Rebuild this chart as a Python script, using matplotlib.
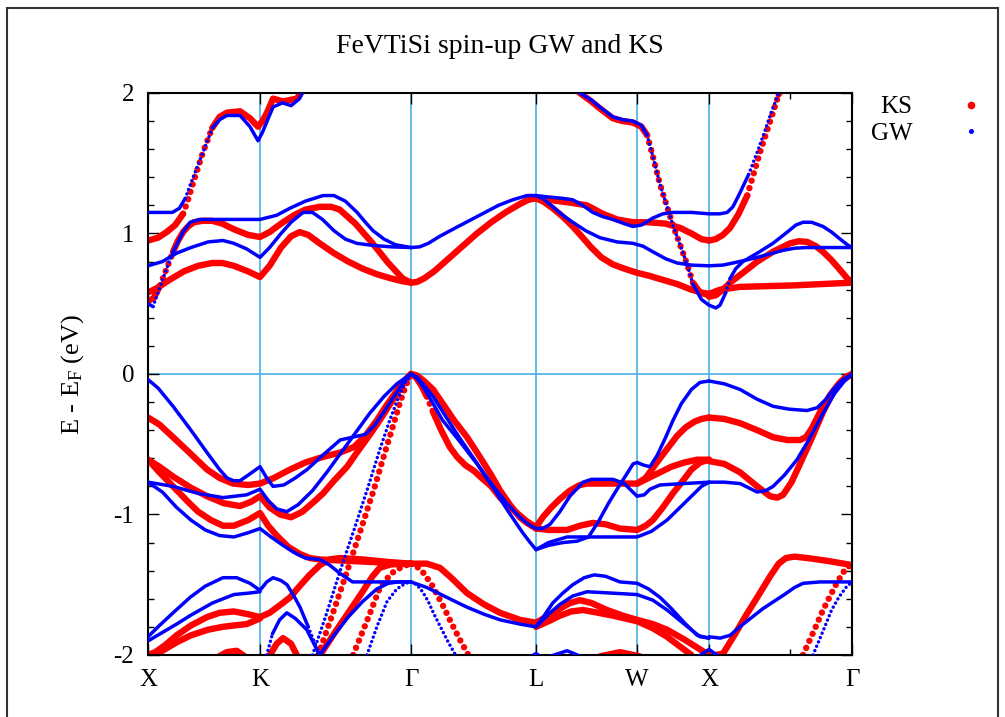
import numpy as np
import matplotlib
matplotlib.use("Agg")
import matplotlib.pyplot as plt
from matplotlib.lines import Line2D
from matplotlib.patches import Rectangle
from matplotlib.ticker import MultipleLocator

plt.rcParams["font.family"] = ["Liberation Serif", "DejaVu Serif"]
plt.rcParams["mathtext.fontset"] = "custom"
plt.rcParams["mathtext.rm"] = "Liberation Serif"
plt.rcParams["mathtext.it"] = "Liberation Serif:italic"
plt.rcParams["axes.unicode_minus"] = False

# ---- k-path --------------------------------------------------------------
kpath_pos = [0.0, 0.783, 1.839, 2.713, 3.420, 3.923, 4.923]
kpath_labels = ["X", "K", "Γ", "L", "W", "X", "Γ"]

# ---- KS bands (k, E - E_F in eV) -----------------------------------------
# conduction
ks_c1 = [(0, 0.58), (0.06, 0.61), (0.15, 0.67), (0.25, 0.73), (0.35, 0.77), (0.45, 0.79),
         (0.52, 0.79), (0.60, 0.77), (0.70, 0.73), (0.783, 0.69), (0.85, 0.77), (0.93, 0.90),
         (1.0, 0.98), (1.06, 1.01), (1.12, 0.99), (1.20, 0.93), (1.30, 0.86), (1.40, 0.80),
         (1.50, 0.75), (1.60, 0.71), (1.70, 0.68), (1.78, 0.66), (1.839, 0.65)]
ks_c2 = [(0, 0.52), (0.04, 0.54), (0.084, 0.63), (0.13, 0.75), (0.175, 0.87), (0.21, 0.95),
         (0.245, 1.01), (0.28, 1.05), (0.32, 1.08), (0.38, 1.09), (0.45, 1.09), (0.52, 1.07),
         (0.60, 1.03), (0.70, 0.99), (0.783, 0.975), (0.85, 1.01), (0.93, 1.07), (1.02, 1.13),
         (1.10, 1.17), (1.20, 1.19), (1.28, 1.19), (1.34, 1.17), (1.45, 1.07), (1.57, 0.93),
         (1.68, 0.79), (1.78, 0.68), (1.839, 0.65)]
ks_c3 = [(0, 0.95), (0.07, 0.97), (0.13, 1.01), (0.19, 1.06), (0.245, 1.14), (0.28, 1.24),
         (0.315, 1.36), (0.385, 1.58), (0.448, 1.75), (0.50, 1.83), (0.552, 1.86), (0.643, 1.87),
         (0.713, 1.82), (0.769, 1.76), (0.80, 1.80), (0.832, 1.86), (0.874, 1.96), (0.944, 1.94),
         (1.04, 1.96), (1.084, 2.02)]
ks_c5 = [(1.839, 0.65), (1.88, 0.655), (1.93, 0.68), (2.00, 0.73), (2.10, 0.82), (2.20, 0.91),
         (2.30, 1.00), (2.40, 1.08), (2.50, 1.15), (2.60, 1.21), (2.66, 1.24), (2.713, 1.25)]
ks_c6 = [(2.713, 1.25), (2.76, 1.23), (2.83, 1.18), (2.90, 1.12), (2.97, 1.05), (3.04, 0.97),
         (3.10, 0.90), (3.17, 0.83), (3.25, 0.78), (3.33, 0.75), (3.42, 0.72), (3.50, 0.70),
         (3.60, 0.67), (3.70, 0.64), (3.80, 0.60), (3.87, 0.58), (3.923, 0.57)]
ks_c7 = [(2.713, 1.25), (2.80, 1.24), (2.95, 1.22), (3.07, 1.20), (3.18, 1.14), (3.28, 1.10),
         (3.39, 1.08), (3.50, 1.08), (3.62, 1.07), (3.72, 1.04), (3.80, 1.00), (3.87, 0.96),
         (3.923, 0.95)]
ks_c8 = [(2.97, 2.05), (3.02, 2.0), (3.10, 1.94), (3.16, 1.89), (3.25, 1.82), (3.32, 1.80),
         (3.39, 1.79), (3.45, 1.76), (3.49, 1.70), (3.53, 1.55), (3.58, 1.35), (3.67, 1.06),
         (3.77, 0.78), (3.81, 0.65), (3.86, 0.58), (3.923, 0.56)]
ks_c9 = [(3.923, 0.57), (4.00, 0.60), (4.14, 0.62), (4.50, 0.63), (4.923, 0.65)]
ks_c10 = [(3.923, 0.55), (3.97, 0.56), (4.02, 0.60), (4.07, 0.65), (4.16, 0.72), (4.26, 0.80),
          (4.37, 0.87), (4.49, 0.93), (4.55, 0.945), (4.61, 0.94), (4.67, 0.91), (4.72, 0.87),
          (4.78, 0.81), (4.84, 0.74), (4.89, 0.68), (4.923, 0.65)]
ks_c11 = [(3.923, 0.95), (3.97, 0.96), (4.02, 0.99), (4.07, 1.04), (4.13, 1.14), (4.19, 1.27),
          (4.28, 1.58), (4.37, 1.86), (4.41, 1.99), (4.44, 2.06)]

# valence
ks_v1 = [(0, -0.31), (0.08, -0.36), (0.175, -0.45), (0.30, -0.57), (0.413, -0.68), (0.50, -0.74),
         (0.594, -0.78), (0.70, -0.79), (0.783, -0.78), (0.88, -0.74), (0.993, -0.68),
         (1.10, -0.63), (1.224, -0.59), (1.34, -0.56), (1.44, -0.52), (1.52, -0.44),
         (1.60, -0.33), (1.67, -0.22), (1.74, -0.12), (1.79, -0.05), (1.839, 0)]
ks_v2 = [(0, -0.61), (0.08, -0.66), (0.175, -0.73), (0.30, -0.81), (0.413, -0.87), (0.53, -0.92),
         (0.643, -0.94), (0.72, -0.91), (0.783, -0.87), (0.85, -0.95), (0.923, -1.0), (1.00, -1.02),
         (1.08, -0.98), (1.16, -0.91), (1.224, -0.85), (1.30, -0.76), (1.392, -0.66),
         (1.46, -0.56), (1.531, -0.46), (1.60, -0.36), (1.67, -0.25), (1.74, -0.14),
         (1.79, -0.06), (1.839, 0)]
ks_v3 = [(0, -0.61), (0.08, -0.70), (0.175, -0.80), (0.27, -0.90), (0.35, -0.98), (0.44, -1.04),
         (0.524, -1.08), (0.60, -1.08), (0.70, -1.04), (0.783, -0.99), (0.84, -1.08), (0.90, -1.15),
         (0.98, -1.23), (1.06, -1.28), (1.13, -1.31), (1.20, -1.32), (1.40, -1.33), (1.60, -1.34),
         (1.839, -1.35)]
ks_v4 = [(1.19, -2.0), (1.30, -1.68), (1.40, -1.38), (1.50, -1.07), (1.58, -0.82), (1.65, -0.58),
         (1.71, -0.38), (1.76, -0.21), (1.80, -0.09), (1.825, -0.03), (1.839, 0)]
ks_v5 = [(1.839, 0), (1.87, -0.02), (1.91, -0.08), (1.95, -0.16), (1.993, -0.27), (2.05, -0.40),
         (2.11, -0.52), (2.161, -0.59), (2.22, -0.65), (2.28, -0.69), (2.322, -0.73), (2.40, -0.80),
         (2.462, -0.88), (2.52, -0.94), (2.58, -0.99), (2.65, -1.05), (2.713, -1.09)]
ks_v6 = [(1.839, 0), (1.88, -0.01), (1.93, -0.05), (1.993, -0.11), (2.06, -0.21), (2.14, -0.33),
         (2.231, -0.45), (2.32, -0.59), (2.40, -0.72), (2.462, -0.83), (2.53, -0.93),
         (2.60, -1.02), (2.65, -1.06), (2.713, -1.10)]
ks_v7 = [(2.713, -1.09), (2.76, -1.02), (2.82, -0.95), (2.88, -0.89), (2.95, -0.83), (3.02, -0.79),
         (3.07, -0.78), (3.16, -0.78), (3.25, -0.78), (3.33, -0.78), (3.42, -0.78), (3.48, -0.74),
         (3.53, -0.67), (3.58, -0.60), (3.64, -0.52), (3.70, -0.44), (3.76, -0.38), (3.82, -0.34),
         (3.87, -0.32), (3.923, -0.31)]
ks_v8 = [(2.713, -1.10), (2.80, -1.11), (2.93, -1.11), (3.02, -1.08), (3.11, -1.06), (3.20, -1.07),
         (3.30, -1.10), (3.42, -1.11), (3.48, -1.08), (3.53, -1.04), (3.60, -0.95), (3.67, -0.85),
         (3.74, -0.76), (3.80, -0.68), (3.86, -0.63), (3.923, -0.61)]
ks_v9 = [(3.42, -0.78), (3.50, -0.74), (3.58, -0.70), (3.66, -0.66), (3.75, -0.63), (3.84, -0.61),
         (3.923, -0.61)]
ks_v10 = [(3.923, -0.31), (4.03, -0.32), (4.14, -0.35), (4.26, -0.40), (4.371, -0.45),
          (4.47, -0.47), (4.559, -0.47), (4.60, -0.45), (4.64, -0.39), (4.70, -0.27),
          (4.769, -0.15), (4.83, -0.07), (4.88, -0.02), (4.923, 0)]
ks_v11 = [(3.923, -0.62), (4.03, -0.64), (4.14, -0.70), (4.26, -0.80), (4.35, -0.87), (4.40, -0.88),
          (4.441, -0.86), (4.50, -0.77), (4.559, -0.64), (4.64, -0.46), (4.72, -0.27),
          (4.79, -0.13), (4.85, -0.05), (4.923, 0)]

# lower valence
ks_l1 = [(0, -2.0), (0.05, -1.98), (0.12, -1.93), (0.20, -1.86), (0.30, -1.79), (0.413, -1.73),
         (0.50, -1.70), (0.60, -1.69), (0.70, -1.71), (0.783, -1.73), (0.85, -1.70), (0.93, -1.64),
         (0.993, -1.59), (1.06, -1.51), (1.13, -1.43), (1.203, -1.36), (1.27, -1.32),
         (1.343, -1.31), (1.50, -1.32), (1.70, -1.34), (1.839, -1.35)]
ks_l2 = [(0.035, -2.02), (0.10, -1.97), (0.20, -1.91), (0.30, -1.86), (0.42, -1.82), (0.52, -1.80),
         (0.60, -1.79), (0.69, -1.78), (0.783, -1.74)]
ks_l3 = [(1.203, -2.0), (1.30, -1.85), (1.40, -1.70), (1.50, -1.55), (1.57, -1.44), (1.62, -1.38),
         (1.70, -1.355), (1.839, -1.35)]
ks_l4 = [(1.839, -1.35), (1.95, -1.35), (2.042, -1.38), (2.12, -1.45), (2.231, -1.56),
         (2.35, -1.64), (2.462, -1.70), (2.60, -1.75), (2.713, -1.77), (2.80, -1.72),
         (2.881, -1.67), (2.95, -1.63), (3.021, -1.61), (3.10, -1.63), (3.21, -1.68),
         (3.32, -1.72), (3.42, -1.75), (3.53, -1.78), (3.629, -1.82), (3.75, -1.89),
         (3.86, -1.96), (3.923, -2.0)]
ks_l5 = [(2.713, -1.80), (2.80, -1.76), (2.881, -1.72), (2.96, -1.69), (3.042, -1.68),
         (3.15, -1.70), (3.25, -1.72), (3.42, -1.76), (3.53, -1.81), (3.629, -1.87),
         (3.72, -1.94), (3.80, -2.0)]
ks_l6 = [(3.97, -2.0), (4.021, -1.99), (4.10, -1.86), (4.18, -1.72), (4.26, -1.59), (4.35, -1.44),
         (4.41, -1.35), (4.46, -1.31), (4.52, -1.30), (4.61, -1.31), (4.75, -1.33), (4.923, -1.36)]
ks_l7 = [(1.839, -1.35), (1.88, -1.37), (1.93, -1.42), (1.99, -1.51), (2.063, -1.65),
         (2.12, -1.77), (2.18, -1.89), (2.24, -2.0)]
ks_l8 = [(4.58, -2.0), (4.66, -1.82), (4.72, -1.68), (4.77, -1.58), (4.82, -1.48), (4.87, -1.40),
         (4.90, -1.37), (4.923, -1.36)]
ks_l9 = [(0.84, -2.02), (0.90, -1.92), (0.944, -1.88), (1.00, -1.92), (1.05, -2.02)]
ks_l10 = [(3.16, -2.01), (3.30, -1.98), (3.44, -2.01)]
ks_l11 = [(0.48, -2.02), (0.55, -1.98), (0.62, -1.97), (0.69, -2.02)]
ks_l12 = [(1.434, -2.0), (1.53, -1.76), (1.622, -1.52), (1.70, -1.42), (1.78, -1.37),
          (1.839, -1.35)]

# ---- GW bands -------------------------------------------------------------
gw_c1 = [(0, 0.77), (0.10, 0.80), (0.20, 0.86), (0.30, 0.90), (0.42, 0.94), (0.524, 0.95),
         (0.60, 0.93), (0.69, 0.89), (0.783, 0.83), (0.85, 0.90), (0.93, 1.00), (1.00, 1.08),
         (1.084, 1.15), (1.15, 1.15), (1.22, 1.10), (1.30, 1.02), (1.38, 0.96), (1.46, 0.93),
         (1.573, 0.915), (1.70, 0.905), (1.839, 0.90)]
gw_c2 = [(0, 0.50), (0.035, 0.48), (0.084, 0.62), (0.13, 0.75), (0.175, 0.87), (0.245, 1.01),
         (0.294, 1.08), (0.36, 1.10), (0.524, 1.10), (0.783, 1.10), (0.90, 1.13), (0.993, 1.18),
         (1.10, 1.23), (1.224, 1.27), (1.30, 1.27), (1.38, 1.23), (1.462, 1.15), (1.52, 1.08),
         (1.573, 1.02), (1.65, 0.96), (1.73, 0.92), (1.839, 0.90)]
gw_c3 = [(0, 1.15), (0.10, 1.15), (0.17, 1.15), (0.22, 1.18), (0.26, 1.25), (0.30, 1.36),
         (0.385, 1.58), (0.45, 1.75), (0.50, 1.81), (0.552, 1.84), (0.643, 1.84), (0.713, 1.76),
         (0.769, 1.66), (0.80, 1.72), (0.874, 1.90), (0.94, 1.93), (1.0, 1.91), (1.06, 1.96),
         (1.09, 2.03)]
gw_c4 = [(1.839, 0.90), (1.90, 0.905), (1.96, 0.93), (2.04, 0.98), (2.15, 1.04), (2.30, 1.12),
         (2.45, 1.20), (2.55, 1.24), (2.65, 1.27), (2.713, 1.27)]
gw_c5 = [(2.713, 1.27), (2.80, 1.26), (2.90, 1.25), (2.97, 1.24), (3.04, 1.20), (3.11, 1.15),
         (3.18, 1.12), (3.25, 1.10), (3.33, 1.07), (3.39, 1.05), (3.45, 1.06), (3.53, 1.11),
         (3.60, 1.14), (3.67, 1.15), (3.80, 1.15), (3.923, 1.14), (4.00, 1.14), (4.05, 1.15),
         (4.09, 1.19), (4.13, 1.27), (4.20, 1.42), (4.26, 1.58), (4.31, 1.72), (4.35, 1.84),
         (4.41, 2.0), (4.43, 2.05)]
gw_c6 = [(2.713, 1.27), (2.76, 1.25), (2.83, 1.19), (2.90, 1.13), (2.97, 1.08), (3.06, 1.02),
         (3.16, 0.97), (3.28, 0.94), (3.39, 0.93), (3.46, 0.91), (3.53, 0.87), (3.62, 0.82),
         (3.70, 0.79), (3.80, 0.775), (3.923, 0.77), (4.02, 0.775), (4.09, 0.79), (4.18, 0.81),
         (4.26, 0.83), (4.35, 0.855), (4.44, 0.88), (4.52, 0.895), (4.60, 0.90), (4.923, 0.90)]
gw_c7 = [(2.97, 2.05), (3.02, 2.0), (3.10, 1.95), (3.16, 1.90), (3.25, 1.83), (3.32, 1.81),
         (3.39, 1.80), (3.45, 1.77), (3.49, 1.70), (3.53, 1.55), (3.58, 1.35), (3.67, 1.06),
         (3.77, 0.78), (3.81, 0.64), (3.87, 0.53), (3.923, 0.49), (3.97, 0.47), (4.00, 0.49),
         (4.04, 0.58), (4.07, 0.68), (4.11, 0.75), (4.16, 0.80), (4.26, 0.86), (4.37, 0.93),
         (4.47, 1.01), (4.53, 1.06), (4.58, 1.08), (4.64, 1.08), (4.72, 1.05), (4.78, 1.01),
         (4.84, 0.96), (4.89, 0.92), (4.923, 0.90)]

gw_v1 = [(0, -0.04), (0.07, -0.10), (0.175, -0.23), (0.30, -0.40), (0.413, -0.56), (0.50, -0.68),
         (0.552, -0.74), (0.60, -0.76), (0.643, -0.76), (0.70, -0.72), (0.783, -0.66),
         (0.83, -0.74), (0.874, -0.80), (0.95, -0.79), (1.03, -0.74), (1.112, -0.68),
         (1.22, -0.58), (1.343, -0.47), (1.43, -0.45), (1.52, -0.43), (1.58, -0.37),
         (1.65, -0.27), (1.72, -0.16), (1.78, -0.07), (1.839, 0)]
gw_v2 = [(0, -0.77), (0.10, -0.84), (0.20, -0.95), (0.30, -1.04), (0.40, -1.11), (0.50, -1.15),
         (0.60, -1.16), (0.70, -1.13), (0.783, -1.10), (0.86, -1.16), (0.944, -1.22),
         (1.02, -1.27), (1.10, -1.31), (1.20, -1.32), (1.27, -1.36), (1.343, -1.42),
         (1.43, -1.48), (1.839, -1.48)]
gw_v3 = [(0, -0.77), (0.175, -0.80), (0.35, -0.85), (0.524, -0.88), (0.69, -0.86), (0.783, -0.82),
         (0.84, -0.90), (0.90, -0.96), (0.97, -0.98), (1.05, -0.93), (1.15, -0.83), (1.25, -0.70),
         (1.35, -0.56), (1.45, -0.42), (1.55, -0.28), (1.65, -0.16), (1.74, -0.07), (1.839, 0)]
gw_v4 = [(1.15, -2.0), (1.25, -1.70), (1.35, -1.38), (1.45, -1.08), (1.54, -0.80), (1.62, -0.54),
         (1.69, -0.33), (1.75, -0.17), (1.80, -0.06), (1.839, 0)]
gw_v5 = [(1.839, 0), (1.88, -0.02), (1.93, -0.08), (1.993, -0.16), (2.08, -0.30), (2.182, -0.46),
         (2.29, -0.62), (2.40, -0.78), (2.50, -0.91), (2.60, -1.02), (2.66, -1.07), (2.713, -1.10)]
gw_v6 = [(1.839, 0), (1.88, -0.03), (1.93, -0.10), (1.993, -0.21), (2.06, -0.33), (2.18, -0.48),
         (2.30, -0.64), (2.42, -0.82), (2.52, -0.98), (2.62, -1.13), (2.68, -1.21), (2.713, -1.25)]
gw_v7 = [(2.713, -1.10), (2.76, -1.10), (2.811, -1.07), (2.88, -0.98), (2.95, -0.87),
         (3.042, -0.77), (3.10, -0.75), (3.252, -0.75), (3.33, -0.78), (3.39, -0.84), (3.42, -0.87),
         (3.47, -0.86), (3.51, -0.82), (3.58, -0.79), (3.741, -0.78), (3.923, -0.77)]
gw_v8 = [(2.713, -1.25), (2.80, -1.22), (2.90, -1.20), (3.00, -1.19), (3.08, -1.16), (3.15, -1.05),
         (3.22, -0.92), (3.28, -0.82), (3.33, -0.74), (3.392, -0.64), (3.42, -0.63), (3.47, -0.65),
         (3.51, -0.66), (3.56, -0.58), (3.62, -0.45), (3.671, -0.33), (3.73, -0.21),
         (3.80, -0.11), (3.86, -0.06), (3.923, -0.05)]
gw_v9 = [(2.713, -1.25), (2.80, -1.20), (2.93, -1.16), (3.10, -1.16), (3.28, -1.16), (3.42, -1.16),
         (3.52, -1.12), (3.629, -1.04), (3.72, -0.95), (3.81, -0.86), (3.87, -0.80), (3.923, -0.77)]
gw_v10 = [(3.923, -0.05), (4.03, -0.07), (4.14, -0.11), (4.26, -0.18), (4.371, -0.23),
          (4.48, -0.25), (4.608, -0.26), (4.68, -0.24), (4.74, -0.18), (4.80, -0.10),
          (4.86, -0.04), (4.923, 0)]
gw_v11 = [(3.923, -0.77), (4.03, -0.77), (4.14, -0.78), (4.20, -0.81), (4.259, -0.84),
          (4.32, -0.83), (4.371, -0.80), (4.45, -0.72), (4.538, -0.61), (4.62, -0.47),
          (4.72, -0.28), (4.80, -0.14), (4.87, -0.05), (4.923, 0)]

gw_l1 = [(0, -1.87), (0.08, -1.79), (0.175, -1.70), (0.294, -1.59), (0.40, -1.51), (0.524, -1.45),
         (0.62, -1.45), (0.713, -1.49), (0.783, -1.54), (0.83, -1.48), (0.874, -1.45),
         (0.93, -1.47), (0.972, -1.50), (1.02, -1.58), (1.063, -1.66), (1.12, -1.80), (1.20, -2.0)]
gw_l2 = [(0, -1.90), (0.10, -1.84), (0.20, -1.78), (0.294, -1.72), (0.45, -1.63), (0.60, -1.57),
         (0.70, -1.56), (0.783, -1.55)]
gw_l3 = [(1.20, -2.0), (1.30, -1.86), (1.40, -1.73), (1.50, -1.62), (1.60, -1.53), (1.68, -1.49),
         (1.75, -1.48), (1.839, -1.48)]
gw_l4 = [(1.839, -1.48), (1.95, -1.52), (2.05, -1.57), (2.15, -1.62), (2.231, -1.66), (2.35, -1.71),
         (2.462, -1.75), (2.60, -1.78), (2.713, -1.80), (2.77, -1.72), (2.83, -1.63), (2.90, -1.56),
         (2.97, -1.50), (3.05, -1.45), (3.12, -1.43), (3.20, -1.44), (3.30, -1.48), (3.42, -1.49),
         (3.50, -1.53), (3.58, -1.59), (3.66, -1.67), (3.75, -1.77), (3.84, -1.86), (3.923, -1.88)]
gw_l5 = [(2.713, -1.80), (2.80, -1.71), (2.88, -1.64), (2.97, -1.58), (3.07, -1.55), (3.25, -1.56),
         (3.42, -1.57), (3.53, -1.61), (3.63, -1.68), (3.75, -1.78), (3.86, -1.87), (3.923, -1.88)]
gw_l6 = [(3.923, -1.87), (4.00, -1.88), (4.07, -1.86), (4.15, -1.79), (4.30, -1.67), (4.45, -1.57),
         (4.52, -1.52), (4.58, -1.49), (4.70, -1.48), (4.923, -1.48)]
gw_l7 = [(1.839, -1.48), (1.88, -1.50), (1.92, -1.55), (1.96, -1.62), (2.0, -1.71), (2.05, -1.81),
         (2.10, -1.91), (2.15, -2.0)]
gw_l8 = [(4.65, -2.0), (4.72, -1.83), (4.78, -1.68), (4.83, -1.59), (4.88, -1.52), (4.923, -1.48)]
gw_l9 = [(0.83, -2.0), (0.87, -1.85), (0.92, -1.75), (0.97, -1.70), (1.03, -1.74), (1.11, -1.82),
         (1.20, -2.0)]
gw_l10 = [(2.66, -2.02), (2.713, -1.99), (2.76, -2.02)]
gw_l11 = [(2.78, -2.02), (2.93, -1.97), (3.05, -2.02)]
gw_l12 = [(3.85, -2.01), (3.923, -1.96), (3.99, -2.01)]
gw_l13 = [(1.531, -2.0), (1.60, -1.80), (1.671, -1.62), (1.74, -1.53), (1.80, -1.49),
          (1.839, -1.48)]

ks_bands = [ks_c1, ks_c2, ks_c3, ks_c5, ks_c6, ks_c7, ks_c8, ks_c9, ks_c10, ks_c11,
            ks_v1, ks_v2, ks_v3, ks_v5, ks_v6, ks_v7, ks_v8, ks_v9, ks_v10, ks_v11,
            ks_l1, ks_l2, ks_l3, ks_l4, ks_l5, ks_l6, ks_l9, ks_l10, ks_l11]
gw_bands = [gw_c1, gw_c2, gw_c3, gw_c4, gw_c5, gw_c6, gw_c7,
            gw_v1, gw_v2, gw_v3, gw_v5, gw_v6, gw_v7, gw_v8, gw_v9, gw_v10, gw_v11,
            gw_l1, gw_l2, gw_l3, gw_l4, gw_l5, gw_l6, gw_l9, gw_l10, gw_l11, gw_l12]
# bands that drop away steeply from Gamma: only sparse k-points, drawn dotted
ks_steep = [ks_v4, ks_l7, ks_l8, ks_l12]
gw_steep = [gw_v4, gw_l7, gw_l8, gw_l13]

c_ks = "#ff0000"
c_gw = "#0000ff"
c_grid = "#56b4e9"


def draw_band(ax, band, color, lw, gap, zorder, dotted=False):
    """Solid where the band is flat, dotted where it runs steeply (sparse k-points)."""
    k, e = np.array(band).T
    steep = np.abs(np.diff(e) / np.diff(k)) > 2.5
    if dotted:
        steep[:] = True
    start = 0
    for i in range(1, len(steep) + 1):
        if i == len(steep) or steep[i] != steep[start]:
            sl = slice(start, i + 1)
            ls = (0, (0.01, gap)) if steep[start] else "-"
            ax.plot(k[sl], e[sl], color=color, lw=lw, ls=ls, dash_capstyle="round",
                    solid_capstyle="round", solid_joinstyle="round", zorder=zorder)
            start = i


fig = plt.figure(figsize=(10.05, 7.17), dpi=100)
ax = fig.add_axes([0.1473, 0.0865, 0.7005, 0.7838])

# symmetry lines and Fermi level
for kp in kpath_pos[1:-1]:
    ax.axvline(kp, color=c_grid, lw=1.3, zorder=1)
ax.axhline(0.0, color=c_grid, lw=1.3, zorder=1)

for band in ks_bands:
    draw_band(ax, band, c_ks, 4.6, 1.2, 2)
for band in ks_steep:
    draw_band(ax, band, c_ks, 4.6, 1.2, 2, dotted=True)
for band in gw_bands:
    draw_band(ax, band, c_gw, 2.5, 1.35, 3)
for band in gw_steep:
    draw_band(ax, band, c_gw, 2.5, 1.35, 3, dotted=True)

ax.set_xlim(kpath_pos[0], kpath_pos[-1])
ax.set_ylim(-2, 2)
ax.set_xticks(kpath_pos)
ax.set_xticklabels(kpath_labels)
ax.set_xticks([4.49], minor=True)
ax.yaxis.set_major_locator(MultipleLocator(1))
ax.yaxis.set_minor_locator(MultipleLocator(0.2))
ax.tick_params(which="both", direction="in", top=True, right=True, labelsize=18, width=1.0)
ax.tick_params(which="major", length=8, pad=10)
ax.tick_params(which="minor", length=4)
for s in ax.spines.values():
    s.set_linewidth(1.5)

ax.set_ylabel("E - E$_\\mathrm{F}$ (eV)", fontsize=19, labelpad=20)
fig.text(0.4975, 0.935, "FeVTiSi spin-up GW and KS", ha="center", va="center", fontsize=20)

handles = [Line2D([], [], ls="none", marker="o", ms=4.5, color=c_ks, label="KS"),
           Line2D([], [], ls="none", marker="o", ms=2.6, color=c_gw, label="GW")]
ax.legend(handles=handles, loc="upper left", bbox_to_anchor=(0.995, 1.035), frameon=False,
          markerfirst=False, fontsize=18, handlelength=1.0, handletextpad=1.85, labelspacing=0.15)

# page frame
fig.patches.append(Rectangle((0.007, -0.01), 0.986, 0.999, transform=fig.transFigure,
                             fill=False, edgecolor="#333333", lw=1.5))

fig.savefig("out.png", dpi=100)
